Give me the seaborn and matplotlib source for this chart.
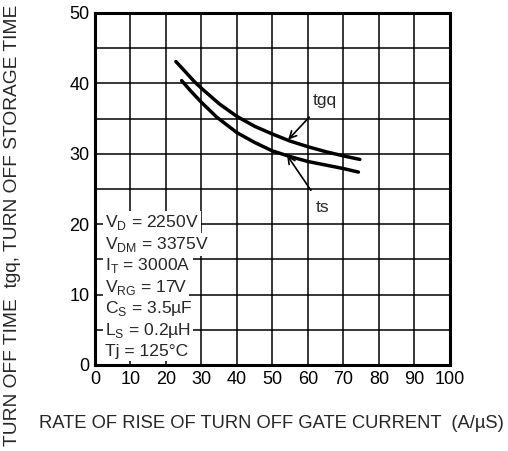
import seaborn as sns
import pandas as pd
import matplotlib.pyplot as plt
from matplotlib.ticker import MultipleLocator

# values
di_dt_tgq = [22.8, 25, 27.9, 30, 35, 40, 45, 50, 55, 60, 65, 70, 74.6]
tgq = [43.1, 41.9, 40.3, 39.3, 37.1, 35.3, 33.9, 32.8, 31.8, 31.0, 30.3, 29.7, 29.2]
di_dt_ts = [24.4, 27, 30, 34.3, 40, 45, 50, 55, 60, 65, 70, 74.2]
ts = [40.4, 38.9, 37.3, 35.2, 33.0, 31.6, 30.4, 29.6, 28.9, 28.4, 27.9, 27.4]

x_ticks = [0, 10, 20, 30, 40, 50, 60, 70, 80, 90, 100]
y_ticks = [0, 10, 20, 30, 40, 50]

conditions = [
    r"V$_\mathregular{D}$ = 2250V",
    r"V$_\mathregular{DM}$ = 3375V",
    r"I$_\mathregular{T}$ = 3000A",
    r"V$_\mathregular{RG}$ = 17V",
    r"C$_\mathregular{S}$ = 3.5µF",
    r"L$_\mathregular{S}$ = 0.2µH",
    "Tj = 125°C",
]

df = pd.concat([
    pd.DataFrame({"rate": di_dt_tgq, "time": tgq, "curve": "tgq"}),
    pd.DataFrame({"rate": di_dt_ts, "time": ts, "curve": "ts"}),
])

sns.set_style("white")
plt.rcParams['font.family'] = ['Liberation Sans', 'DejaVu Sans']
plt.rcParams['mathtext.fontset'] = 'custom'
plt.rcParams['mathtext.rm'] = 'Liberation Sans'

fig = plt.figure(figsize=(5.08, 4.51), dpi=100)
ax = fig.add_axes([0.187, 0.1907, 0.6988, 0.7805])

sns.lineplot(data=df, x="rate", y="time", units="curve", estimator=None,
             color="black", linewidth=2.5, ax=ax, zorder=3)

ax.set_xlim(0, 100)
ax.set_ylim(0, 50)
ax.set_xticks(x_ticks)
ax.set_yticks(y_ticks)
ax.xaxis.set_minor_locator(MultipleLocator(10))
ax.yaxis.set_minor_locator(MultipleLocator(5))
ax.grid(True, which="both", color="black", linewidth=1.1)
ax.set_axisbelow(True)
ax.tick_params(axis="both", which="both", length=0, labelsize=13, pad=4,
               colors="black")
for sp in ax.spines.values():
    sp.set_visible(True)
    sp.set_color("black")
    sp.set_linewidth(2.2)
ax.set_xlabel("")
ax.set_ylabel("")

# condition block, one white box per line
y0 = 20.2
for i, txt in enumerate(conditions):
    ax.text(2.8, y0 - i * 3.05, txt, fontsize=12.6, ha="left", va="center",
            bbox=dict(facecolor="white", edgecolor="none", pad=1.5), zorder=4)

ax.annotate("tgq", xy=(54.4, 32.0), xytext=(64.8, 37.6), fontsize=12.6,
            ha="center", va="center",
            arrowprops=dict(arrowstyle="->", color="black", lw=1.2,
                            shrinkA=6, shrinkB=0))
ax.annotate("ts", xy=(54.1, 29.8), xytext=(64.2, 22.3), fontsize=12.6,
            ha="center", va="center",
            arrowprops=dict(arrowstyle="->", color="black", lw=1.2,
                            shrinkA=6, shrinkB=0))

fig.text(271 / 508, 1 - 423 / 451,
         "RATE OF RISE OF TURN OFF GATE CURRENT  (A/µS)",
         fontsize=13.2, ha="center", va="center")
fig.text(13 / 508, 0.5,
         "TURN OFF TIME  tgq, TURN OFF STORAGE TIME",
         fontsize=13.8, rotation=90, ha="center", va="center")

fig.savefig("out.png", dpi=100)
